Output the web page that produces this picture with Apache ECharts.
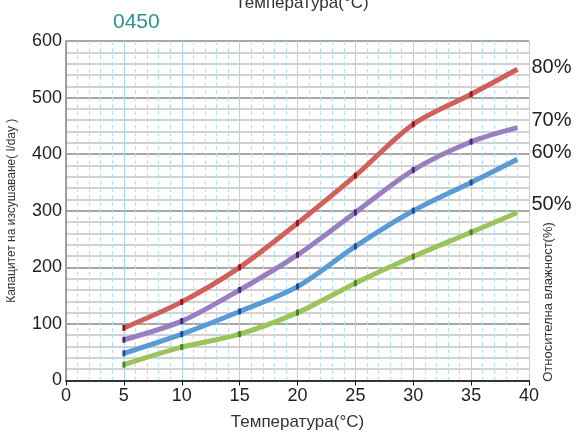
<!DOCTYPE html>
<html>
<head>
<meta charset="utf-8">
<script src="https://cdn.jsdelivr.net/npm/echarts@6/dist/echarts.min.js"></script>
<style>html,body{margin:0;padding:0;background:#fff}#c{width:576px;height:435px}</style>
</head>
<body>
<div id="c"></div>
<script>
const temps = [5, 10, 15, 20, 25, 30, 35, 39];
const rh80 = [93, 139, 200, 278, 362, 453, 506, 550];
const rh70 = [72, 105, 160, 222, 297, 372, 422, 447];
const rh60 = [48, 82, 122, 166, 237, 300, 350, 391];
const rh50 = [28, 59, 82, 120, 172, 219, 262, 297];
const seriesNames = ['80%', '70%', '60%', '50%'];
const xTitle = 'Температура(°C)';
const yTitle = 'Капацитет на изсушаване( l/day )';
const rightTitle = 'Относителна влажност(%)';
const modelName = '0450';

const lineColors = ['#d0605a', '#9a7fc0', '#5b9bd5', '#9cc45c'];
const markColors = ['#8e1d1a', '#452a7e', '#1b4f9e', '#4a8420'];
const labelOffsets = [[14, -2], [14, -7], [14, -7], [14, -8]];
const allData = [rh80, rh70, rh60, rh50];

const FONT = 'Liberation Sans, Arial, sans-serif';
const chart = echarts.init(document.getElementById('c'), null, {renderer: 'canvas'});
chart.setOption({
  animation: false,
  backgroundColor: '#fff',
  title: [
    {text: xTitle, left: 297, top: -10, textAlign: 'center',
     textStyle: {fontFamily: FONT, fontSize: 17, fontWeight: 'normal', color: '#333'}},
    {text: modelName, left: 108, top: 7,
     textStyle: {fontFamily: FONT, fontSize: 21, fontWeight: 'normal', color: '#2b9494'}}
  ],
  grid: {left: 66, right: 47, top: 41, bottom: 54.5, containLabel: false, outerBoundsMode: 'none'},
  xAxis: {
    type: 'value', min: 0, max: 40, interval: 5,
    name: xTitle, nameLocation: 'middle', nameGap: 33,
    nameTextStyle: {fontFamily: FONT, fontSize: 17, color: '#333'},
    axisLine: {show: true, lineStyle: {color: '#111', width: 1.5}},
    axisTick: {show: true, length: 5, lineStyle: {color: '#111'}},
    axisLabel: {fontFamily: FONT, fontSize: 18, color: '#222', margin: 7},
    splitLine: {show: true, lineStyle: {color: '#a6d8f2', width: 1}},
    minorTick: {show: false, splitNumber: 5},
    minorSplitLine: {show: true, lineStyle: {color: '#b3e0f7', width: 1, type: [4, 3]}}
  },
  yAxis: {
    type: 'value', min: 0, max: 600, interval: 100,
    name: yTitle, nameLocation: 'middle', nameGap: 48, nameRotate: 90,
    nameTextStyle: {fontFamily: FONT, fontSize: 12, color: '#333'},
    axisLine: {show: true, lineStyle: {color: '#888', width: 1.5}},
    axisTick: {show: false},
    axisLabel: {fontFamily: FONT, fontSize: 18, color: '#222', margin: 4},
    splitLine: {show: true, lineStyle: {color: '#8a8a8a', width: 1.5}},
    minorTick: {show: false, splitNumber: 5},
    minorSplitLine: {show: true, lineStyle: {color: '#d2d2d2', width: 2}}
  },
  graphic: [
    {type: 'text', x: 548, y: 302, rotation: Math.PI / 2,
     style: {text: rightTitle, fontFamily: FONT, fontSize: 13, fill: '#333',
             textAlign: 'center', textVerticalAlign: 'middle'}}
  ],
  series: allData.map((vals, i) => ({
    name: seriesNames[i],
    type: 'line',
    smooth: 0.3,
    data: temps.map((t, j) => [t, vals[j]]),
    lineStyle: {color: lineColors[i], width: 5},
    symbol: (v) => (v[0] % 5 === 0 ? 'rect' : 'none'),
    symbolSize: [3, 6],
    itemStyle: {color: markColors[i]},
    endLabel: {show: true, formatter: seriesNames[i], offset: labelOffsets[i],
               fontFamily: FONT, fontSize: 20, color: '#222', distance: 0},
    z: 10 - i
  }))
});
</script>
</body>
</html>
